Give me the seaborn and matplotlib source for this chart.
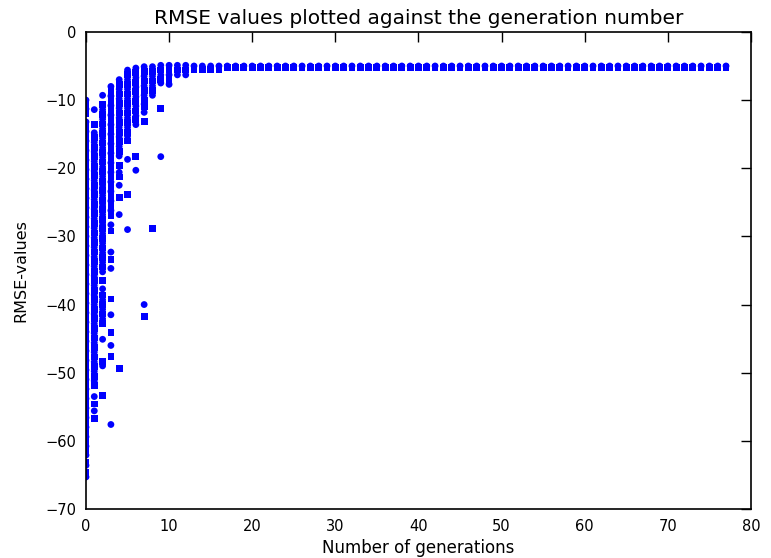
import matplotlib
matplotlib.use("Agg")
import matplotlib.pyplot as plt
import seaborn as sns
import pandas as pd

# ---- data (RMSE values per generation) ----
gen_00 = [-10.0, -10.6, -11.3, -12.0, -13.2, -13.9, -14.6, -15.3, -16.0, -16.7,
          -17.4, -18.1, -18.8, -19.5, -20.2, -20.9, -21.6, -22.3, -23.0, -23.7,
          -24.4, -25.1, -25.8, -26.5, -27.2, -27.9, -28.6, -29.3, -30.0, -30.7,
          -31.4, -32.1, -32.8, -33.5, -34.2, -34.9, -35.6, -36.3, -37.0, -37.7,
          -38.4, -39.1, -39.8, -40.5, -41.2, -41.9, -42.6, -43.3, -44.0, -44.7,
          -45.4, -46.1, -46.8, -47.5, -48.2, -48.9, -49.6, -50.3, -51.0, -51.7,
          -52.4, -53.1, -53.8, -54.5, -55.2, -55.9, -56.6, -57.3, -58.0, -58.7,
          -59.4, -60.1, -60.8, -61.6, -62.1, -63.1, -63.6, -64.7, -65.3]
gen_01 = [-11.4, -13.6, -14.8, -15.5, -16.2, -16.9, -17.6, -18.3, -19.0, -19.7,
          -20.4, -21.1, -21.8, -22.5, -23.2, -23.9, -24.6, -25.3, -26.0, -26.7,
          -27.4, -28.1, -28.8, -29.5, -30.2, -30.9, -31.6, -32.3, -33.0, -33.7,
          -34.4, -35.1, -35.8, -36.5, -37.2, -37.9, -38.6, -39.3, -40.0, -40.7,
          -41.4, -42.1, -42.8, -43.5, -44.2, -44.9, -45.6, -46.3, -47.0, -47.7,
          -48.4, -49.1, -49.8, -50.5, -51.2, -51.9, -53.5, -54.6, -55.6, -56.7]
gen_02 = [-9.3, -10.6, -11.4, -12.1, -12.8, -13.5, -14.2, -14.9, -15.6, -16.3,
          -17.0, -17.7, -18.4, -19.1, -19.8, -20.5, -21.2, -21.9, -22.6, -23.3,
          -24.0, -24.7, -25.4, -26.1, -26.8, -27.5, -28.2, -28.9, -29.6, -30.3,
          -31.0, -31.7, -32.4, -33.1, -33.8, -34.5, -35.2, -36.5, -37.7, -38.6,
          -39.3, -40.0, -40.7, -41.4, -42.1, -42.8, -45.1, -48.4, -49.0, -53.3]
gen_03 = [-8.0, -8.7, -9.4, -10.1, -10.8, -11.5, -12.2, -12.9, -13.6, -14.3,
          -15.0, -15.7, -16.4, -17.1, -17.8, -18.5, -19.2, -19.9, -20.6, -21.3,
          -22.0, -22.7, -23.4, -24.1, -24.8, -25.5, -26.2, -26.9, -28.3, -29.2,
          -32.3, -33.4, -34.7, -39.2, -41.5, -44.1, -46.0, -47.6, -57.6]
gen_04 = [-7.0, -7.7, -8.4, -9.1, -9.8, -10.5, -11.2, -11.9, -12.6, -13.3,
          -14.0, -14.7, -15.4, -16.1, -16.8, -17.5, -18.2, -19.6, -20.6, -21.3,
          -22.5, -24.3, -26.8, -49.4]
gen_05 = [-5.6, -6.3, -7.0, -7.7, -8.4, -9.1, -9.8, -10.5, -11.2, -11.9,
          -12.6, -13.3, -14.0, -14.7, -15.3, -16.0, -18.7, -23.8, -29.0]
gen_06 = [-5.3, -6.0, -6.7, -7.4, -8.1, -8.8, -9.5, -10.2, -10.9, -11.6,
          -12.3, -12.9, -13.6, -18.3, -20.3]
gen_07 = [-5.1, -5.8, -6.5, -7.2, -7.9, -8.6, -9.3, -10.0, -10.6, -11.0,
          -11.8, -13.1, -40.0, -41.7]
gen_08 = [-5.1, -5.8, -6.5, -7.2, -7.9, -8.6, -9.3, -28.8]
gen_09 = [-4.9, -5.6, -6.3, -7.0, -7.5, -11.2, -18.3]
gen_10 = [-4.9, -5.6, -6.3, -7.0, -7.7]
gen_11 = [-4.9, -5.6, -6.3]
gen_12 = [-4.9, -5.6, -6.3]
gen_13_to_16 = [-5.0, -5.5]
gen_17_to_77 = [-5.0, -5.2]

early_generations = [gen_00, gen_01, gen_02, gen_03, gen_04, gen_05, gen_06,
                     gen_07, gen_08, gen_09, gen_10, gen_11, gen_12]
last_generation = 77

x_ticks = [0, 10, 20, 30, 40, 50, 60, 70, 80]
y_ticks = [-70, -60, -50, -40, -30, -20, -10, 0]

# ---- build long table ----
rows = []
def add(gen, vals):
    for i, v in enumerate(vals):
        rows.append({"generation": gen, "rmse": v, "individual": str(i % 2)})

for g, vals in enumerate(early_generations):
    add(g, vals)
for g in range(13, 17):
    add(g, gen_13_to_16)
for g in range(17, last_generation + 1):
    add(g, gen_17_to_77)
df = pd.DataFrame(rows)

# ---- style ----
sns.set_style("white")
plt.rcParams.update({
    "font.family": ["DejaVu Sans"],
    "text.color": "black", "axes.labelcolor": "black",
    "xtick.direction": "in", "ytick.direction": "in",
    "xtick.top": True, "ytick.right": True,
    "xtick.major.size": 7, "ytick.major.size": 7,
    "xtick.major.width": 1.0, "ytick.major.width": 1.0,
    "axes.edgecolor": "black", "axes.linewidth": 1.2,
    "xtick.color": "black", "ytick.color": "black",
})

fig = plt.figure(figsize=(7.71, 5.58), dpi=100)
ax = fig.add_axes([0.1115, 0.0878, 0.8625, 0.855])

marker_cycle = {"0": "o", "1": "s"}
sns.scatterplot(data=df, x="generation", y="rmse", style="individual",
                markers=marker_cycle, color="#0000ff", edgecolor="#0000ff",
                linewidth=0, s=24, legend=False, ax=ax, clip_on=True)

ax.set_xlim(0, 80)
ax.set_ylim(-70, 0)
ax.set_xticks(x_ticks)
ax.set_yticks(y_ticks)
ax.tick_params(labelsize=10.5, pad=7)
ax.set_title("RMSE values plotted against the generation number", fontsize=14.5, pad=6)
ax.set_xlabel("Number of generations", fontsize=12, labelpad=4)
ax.set_ylabel("RMSE-values", fontsize=11.5, labelpad=12)
for s in ax.spines.values():
    s.set_visible(True)

fig.savefig("out.png", dpi=100)
